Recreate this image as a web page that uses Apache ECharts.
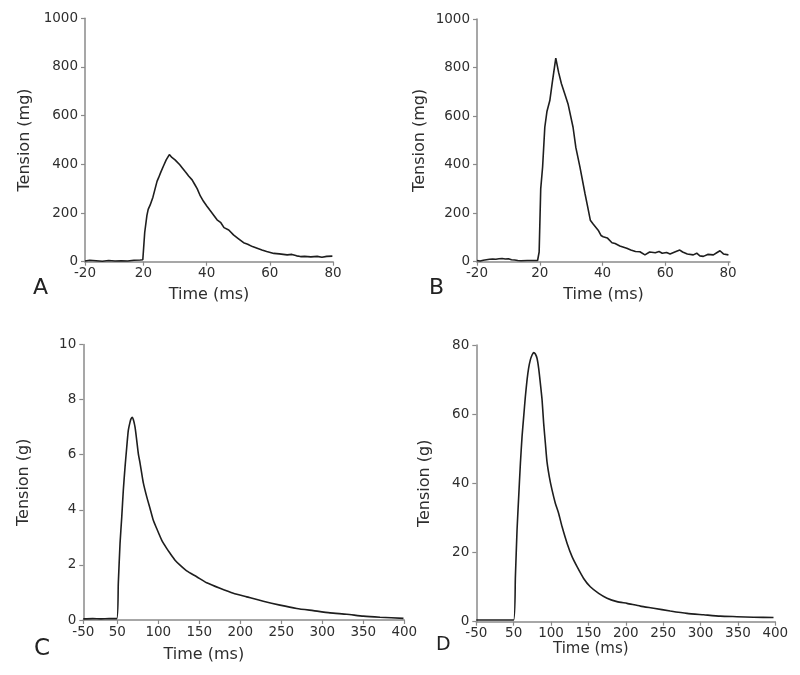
<!DOCTYPE html>
<html><head><meta charset="utf-8">
<script src="https://cdn.jsdelivr.net/npm/echarts@6/dist/echarts.min.js"></script>
<style>html,body{margin:0;padding:0;background:#fff}#c{width:800px;height:675px}</style>
</head><body><div id="c"></div>
<script>
// Panel A (mg vs ms)
const timeA = [1.5,3,5,7,9,11,13,15,17,19,19.8,20.4,21.1,21.5,22.1,23,23.7,24.3,24.8,25.5,26.3,27.2,28.2,29,30,30.6,31.5,32.3,33.2,34.3,35.4,36.2,37,37.5,38,39,40.1,41,42,43.3,44.5,45.5,47,48.5,50,51.7,53,54.5,56,57.5,59,61.3,63,65.5,67,68.5,69.7,71,73,75,76.5,78,79.8];
const tensionA = [3,6,4,2,5,3,4,3,6,7,8,120,190,215,232,265,300,330,345,368,392,418,440,428,418,410,398,385,370,352,336,318,300,296,270,248,228,212,195,172,160,140,130,110,95,78,72,62,55,48,42,34,32,28,30,24,21,22,20,22,18,22,23];
// Panel B (mg vs ms)
const timeB = [0,1,2,3,4,5,6,7,8,9,10,11,12,13,14,16,18,19.3,19.8,20.3,20.9,21.6,22.3,23.2,24,25.1,26,26.9,28,29,30.6,31.5,32.8,34.4,35.2,36.1,37,38.6,39.5,40.2,41.5,43,44,45.5,47.7,49,50.5,51.9,53.5,55,56.8,58,59,60.4,61.5,63,64.6,65.5,67,68.9,70,71,72.1,73.5,75.3,76.5,77.4,78.5,80.1];
const tensionB = [5,3,6,8,10,11,10,12,13,11,12,8,7,5,4,5,5,5,40,300,390,554,620,664,740,839,780,733,690,650,554,470,390,281,230,171,155,130,108,103,98,78,75,65,55,48,42,41,28,40,37,42,35,38,32,40,48,40,32,28,35,24,22,30,28,38,45,32,28];
// Panel C (g vs ms)
const timeC = [8.5,20,30,40,49.3,51.2,53.3,55.4,57.3,59.4,61.5,63.4,65.5,66.7,68.3,71.6,75.6,77.8,79.8,81.7,85.9,89.9,93.9,98,104.1,110.2,114.3,120.4,126.5,134.6,146.8,159,175.2,191.5,207.8,228,248.4,268.8,289,309.4,329.8,350,370.4,399];
const tensionC = [0.04,0.05,0.04,0.05,0.05,1.33,2.78,3.74,4.71,5.55,6.28,6.88,7.18,7.3,7.36,7.0,6.04,5.68,5.31,4.98,4.47,4.05,3.62,3.32,2.9,2.6,2.42,2.17,1.99,1.78,1.57,1.35,1.15,0.97,0.84,0.68,0.54,0.42,0.34,0.26,0.21,0.14,0.1,0.06];
// Panel D (g vs ms)
const timeD = [0,20,40,50,52.3,54.5,56.7,59,61.2,63.4,65.6,67.9,70,72.3,74.6,76.7,79,81.3,83.4,85.7,88,90.1,92.4,94.6,97.7,101.3,105.8,110.2,114.7,121.4,128.1,134.8,143.6,152.5,163.7,174.9,188.2,201.6,219.4,237.2,259.5,281.8,304.1,326.3,348.7,370.9,397.6];
const tensionD = [0.5,0.5,0.5,0.5,13,26.5,36.1,45.8,53.5,59.3,65,69.9,73.3,75.7,77.1,77.8,77.4,76.1,73.3,68.9,64.1,57.4,51.6,46.2,41.9,38.1,34.2,31.3,27.5,22.7,18.8,15.9,12.5,10.1,8.2,6.8,5.8,5.3,4.5,3.9,3.1,2.4,2.0,1.6,1.45,1.3,1.2];

// Tick positions / labels (first label sits at the compressed axis start)
const xTickValA = [1.5,20,40,60,80];
const xTickValB = [0,20,40,60,80];
const xTickLabAB = ['-20','20','40','60','80'];
const xTickValC = [8.5,50,100,150,200,250,300,350,400];
const xTickValD = [0,50,100,150,200,250,300,350,400];
const xTickLabCD = ['-50','50','100','150','200','250','300','350','400'];
const panelLetters = ['A','B','C','D'];
const yNames = ['Tension (mg)','Tension (mg)','Tension (g)','Tension (g)'];
const xName = 'Time (ms)';

const FONT = 'DejaVu Sans';
const AXC = '#8a8a8a';
const TXC = '#2e2e2e';

const grids = [
  {left:85, top:18.2, width:248, height:243.5},
  {left:477, top:19, width:253, height:242.7},
  {left:83.3, top:344.5, width:321, height:275.5},
  {left:476.3, top:345, width:299, height:276.7}
];
const xCfg = [
  {min:1.5, max:80, vals:xTickValA, labs:xTickLabAB, gap:25, pad:[0,0,0,0], fs:16},
  {min:0, max:80.6, vals:xTickValB, labs:xTickLabAB, gap:25, pad:[0,0,0,0], fs:16},
  {min:8.5, max:400, vals:xTickValC, labs:xTickLabCD, gap:27, pad:[0,80,0,0], fs:16},
  {min:0, max:400, vals:xTickValD, labs:xTickLabCD, gap:18, pad:[0,70,0,0], fs:15}
];
const yCfg = [
  {min:0, max:1000, interval:200, gap:52},
  {min:0, max:1000, interval:200, gap:49},
  {min:0, max:10, interval:2, gap:51},
  {min:0, max:80, interval:20, gap:43}
];
const series = [[timeA,tensionA],[timeB,tensionB],[timeC,tensionC],[timeD,tensionD]];

const axisLine = {show:true, lineStyle:{color:AXC, width:1.5}};
const axisTick = {show:true, length:4, inside:false, lineStyle:{color:AXC, width:1.2}};

const option = {
  animation:false,
  backgroundColor:'#fff',
  grid: grids.map(g => Object.assign({containLabel:false}, g)),
  xAxis: xCfg.map((c,i) => ({
    type:'value', gridIndex:i, min:c.min, max:c.max,
    axisLine, splitLine:{show:false},
    axisTick:Object.assign({customValues:c.vals}, axisTick),
    axisLabel:{customValues:c.vals, margin:5, fontFamily:FONT, fontSize:13.5, color:TXC,
      formatter: v => { const k = c.vals.indexOf(v); return k >= 0 ? c.labs[k] : ''; }},
    name:xName, nameLocation:'middle', nameGap:c.gap,
    nameTextStyle:{fontFamily:FONT, fontSize:c.fs, color:TXC, padding:c.pad}
  })),
  yAxis: yCfg.map((c,i) => ({
    type:'value', gridIndex:i, min:c.min, max:c.max, interval:c.interval,
    axisLine, axisTick, splitLine:{show:false},
    axisLabel:{margin:7, fontFamily:FONT, fontSize:13.5, color:TXC, formatter: v => String(v)},
    name:yNames[i], nameLocation:'middle', nameGap:c.gap,
    nameTextStyle:{fontFamily:FONT, fontSize:16, color:TXC}
  })),
  series: series.map((s,i) => ({
    type:'line', xAxisIndex:i, yAxisIndex:i,
    data: s[0].map((t,k) => [t, s[1][k]]),
    showSymbol:false, symbol:'none',
    smooth: i >= 2 ? 0.2 : false,
    lineStyle:{color:'#1e1e1e', width:1.6},
    z:3
  })),
  graphic: [
    {type:'text', left:33, top:277, style:{text:panelLetters[0], font:'22px "DejaVu Sans"', fill:'#222'}},
    {type:'text', left:429, top:277, style:{text:panelLetters[1], font:'22px "DejaVu Sans"', fill:'#222'}},
    {type:'text', left:34, top:638, style:{text:panelLetters[2], font:'23px "DejaVu Sans"', fill:'#222'}},
    {type:'text', left:436, top:636, style:{text:panelLetters[3], font:'19px "DejaVu Sans"', fill:'#222'}}
  ]
};
const chart = echarts.init(document.getElementById('c'), null, {renderer:'canvas'});
chart.setOption(option);
</script>
</body></html>
